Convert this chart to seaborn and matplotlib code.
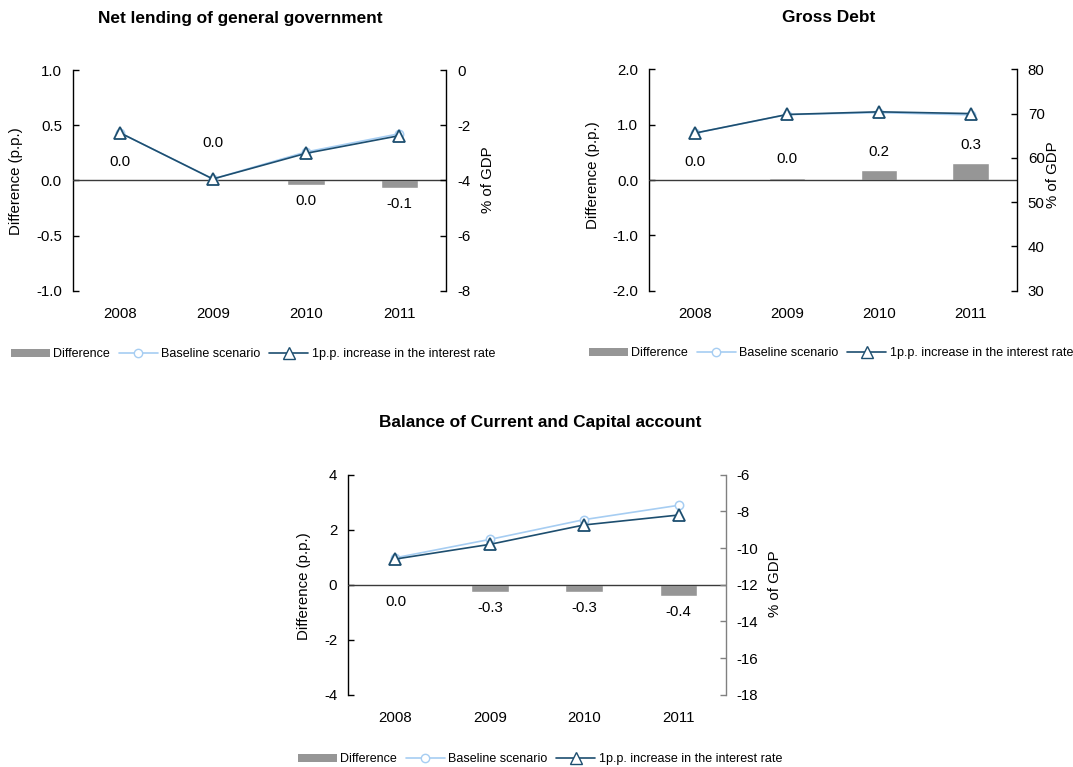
import matplotlib
matplotlib.use("Agg")
import matplotlib.pyplot as plt
from matplotlib.lines import Line2D
from matplotlib.patches import Patch
from matplotlib.ticker import FormatStrFormatter, MultipleLocator
import seaborn as sns
import pandas as pd

# ---- data -------------------------------------------------------------
years = ["2008", "2009", "2010", "2011"]

# Net lending of general government (% of GDP) and difference (p.p.)
nl_diff = [0.0, 0.0, -0.04, -0.07]
nl_base = [-2.27, -3.95, -2.97, -2.31]
nl_rate = [-2.27, -3.95, -3.02, -2.38]

# Gross debt (% of GDP) and difference (p.p.)
gd_diff = [0.0, 0.04, 0.18, 0.30]
gd_base = [65.6, 69.76, 70.22, 69.70]
gd_rate = [65.6, 69.80, 70.40, 70.00]

# Balance of current and capital account (% of GDP) and difference (p.p.)
ca_diff = [-0.02, -0.27, -0.28, -0.41]
ca_base = [-10.53, -9.53, -8.45, -7.67]
ca_rate = [-10.60, -9.80, -8.74, -8.20]

titles = ["Net lending of general government", "Gross Debt",
          "Balance of Current and Capital account"]
legend_labels = ["Difference", "Baseline scenario",
                 "1p.p. increase in the interest rate"]

# ---- style ------------------------------------------------------------
sns.set_theme(style="white")
plt.rcParams["font.family"] = ["Liberation Sans", "DejaVu Sans"]
plt.rcParams["axes.unicode_minus"] = False
for key in ("text.color", "axes.labelcolor", "xtick.color", "ytick.color"):
    plt.rcParams[key] = "black"

BAR = "#969696"
LIGHT = "#a6cdf2"
DARK = "#1d4e6f"
FS = 10.8

W, H = 1073, 767
fig = plt.figure(figsize=(W / 100, H / 100), dpi=100)


def px_axes(x0, x1, y0, y1):
    return fig.add_axes([x0 / W, 1 - y1 / H, (x1 - x0) / W, (y1 - y0) / H])


def panel(rect, diff, base, rate, lim_l, step_l, fmt_l, lim_r, step_r,
          label_offsets, title, title_xy, ylab_l, ylab_r, legend_xy,
          right_color="black"):
    ax = px_axes(*rect)
    df = pd.DataFrame({"year": years, "diff": diff, "base": base, "rate": rate})

    sns.barplot(data=df, x="year", y="diff", color=BAR, width=0.4,
                saturation=1, ax=ax, zorder=2)
    ax.set_xlim(-0.5, 3.5)
    ax.set_ylim(*lim_l)
    ax.yaxis.set_major_locator(MultipleLocator(step_l))
    ax.yaxis.set_major_formatter(FormatStrFormatter(fmt_l))
    ax.axhline(0, color="#3a3a3a", lw=1.0, zorder=3)
    ax.set_xlabel("")
    ax.set_ylabel("")

    ax2 = ax.twinx()
    sns.pointplot(data=df, x="year", y="base", color=LIGHT, marker="o",
                  markersize=6, markerfacecolor="white", markeredgecolor=LIGHT,
                  markeredgewidth=1.1, linewidth=1.2, ax=ax2)
    sns.pointplot(data=df, x="year", y="rate", color=DARK, marker="^",
                  markersize=9, markerfacecolor="white", markeredgecolor=DARK,
                  markeredgewidth=1.3, linewidth=1.2, ax=ax2)
    ax2.set_xlim(-0.5, 3.5)
    ax2.set_ylim(*lim_r)
    ax2.yaxis.set_major_locator(MultipleLocator(step_r))
    ax2.yaxis.set_major_formatter(FormatStrFormatter("%d"))
    ax2.set_xlabel("")
    ax2.set_ylabel("")

    for a in (ax, ax2):
        for s in ("top", "bottom"):
            a.spines[s].set_visible(False)
        a.grid(False)
    ax.spines["right"].set_visible(False)
    ax2.spines["left"].set_visible(False)
    ax.spines["left"].set_color("black")
    ax.spines["left"].set_linewidth(1.0)
    ax2.spines["right"].set_color(right_color)
    ax2.spines["right"].set_linewidth(1.0)

    ax.tick_params(axis="y", direction="in", length=4, width=1, pad=8,
                   labelsize=FS, colors="black", left=True)
    ax.tick_params(axis="x", length=0, pad=12, labelsize=FS, colors="black")
    ax2.tick_params(axis="y", direction="in", length=4, width=1, pad=8,
                    labelsize=FS, labelcolor="black", right=True,
                    color=right_color)
    ax2.tick_params(axis="x", length=0)

    # value labels on the difference bars
    for i, (v, off) in enumerate(zip(diff, label_offsets)):
        txt = f"{v:.1f}"
        if txt == "-0.0":
            txt = "0.0"
        ax.annotate(txt, xy=(i, v), xytext=(0, off), textcoords="offset points",
                    ha="center", va="center", fontsize=FS, color="black",
                    zorder=5)

    fig.text(title_xy[0] / W, 1 - title_xy[1] / H, title, ha="center",
             va="center", fontsize=12.4, fontweight="bold", color="black")
    fig.text(ylab_l[0] / W, 1 - ylab_l[1] / H, "Difference (p.p.)",
             rotation=90, ha="center", va="center", fontsize=FS)
    fig.text(ylab_r[0] / W, 1 - ylab_r[1] / H, "% of GDP",
             rotation=90, ha="center", va="center", fontsize=FS)

    handles = [
        Patch(facecolor=BAR, edgecolor="none"),
        Line2D([], [], color=LIGHT, lw=1.2, marker="o", markersize=6,
               markerfacecolor="white", markeredgecolor=LIGHT),
        Line2D([], [], color=DARK, lw=1.2, marker="^", markersize=8,
               markerfacecolor="white", markeredgecolor=DARK),
    ]
    fig.legend(handles, legend_labels, loc="center",
               bbox_to_anchor=(legend_xy[0] / W, 1 - legend_xy[1] / H),
               ncol=3, frameon=False, fontsize=9, handlelength=3.1,
               handleheight=0.6, handletextpad=0.3, columnspacing=0.7,
               borderaxespad=0, borderpad=0)
    return ax, ax2


panel((73, 446, 70, 290.7), nl_diff, nl_base, nl_rate,
      (-1.0, 1.0), 0.5, "%.1f", (-8, 0), 2,
      [13.2, 26.6, -11.5, -11.5], titles[0], (240, 18),
      (16, 181), (488, 180), (253, 354))

panel((649.3, 1016.7, 69.3, 290.7), gd_diff, gd_base, gd_rate,
      (-2.0, 2.0), 1.0, "%.1f", (30, 80), 10,
      [13.2, 13.2, 13.2, 13.2], titles[1], (828.5, 18),
      (593, 175), (1053, 175), (831, 353))

panel((348.3, 725.7, 474.7, 694.7), ca_diff, ca_base, ca_rate,
      (-4, 4), 2, "%d", (-18, -6), 2,
      [-12, -11.5, -11.5, -11.5], titles[2], (540, 422),
      (304, 586), (775, 584), (540, 759), right_color="#808080")

fig.savefig("out.png", dpi=100)
